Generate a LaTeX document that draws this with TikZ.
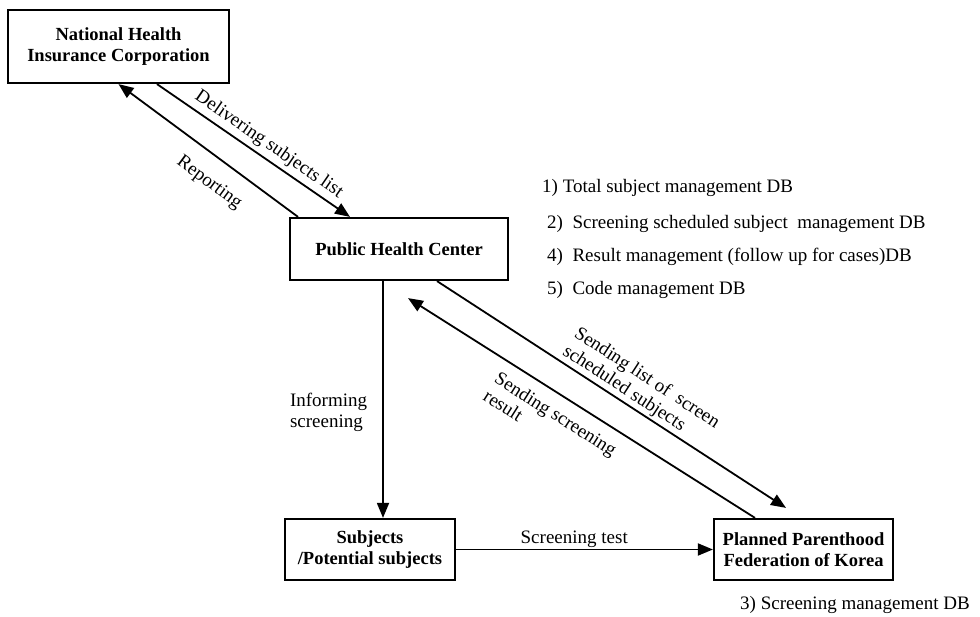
\documentclass[tikz,border=0pt]{standalone}
\usepackage{fontspec}
\setmainfont{Liberation Serif}
\usetikzlibrary{arrows.meta}

\begin{document}
\begin{tikzpicture}[x=1pt, y=-1pt,
    box/.style={draw, line width=2.2pt, align=center, inner sep=0pt, font=\bfseries\fontsize{18.5}{21}\selectfont},
    arr/.style={line width=1.8pt, -{Triangle[length=15pt,width=12pt]}},
    rarr/.style={line width=1.8pt, {Triangle[length=15pt,width=12pt]}-},
    lbl/.style={font=\fontsize{19}{21}\selectfont, inner sep=0pt},
    dblist/.style={anchor=west, font=\fontsize{19}{21}\selectfont, inner sep=0pt}]
    \useasboundingbox (0,0) rectangle (980,617);

    % Boxes
    \node[box, minimum width=221pt, minimum height=73pt] (nhic) at (118.5,46.5) {National Health\\Insurance Corporation};
    \node[box, minimum width=218pt, minimum height=62pt] (phc) at (399,249) {Public Health Center};
    \node[box, minimum width=170pt, minimum height=61pt] (subj) at (370,549.5) {Subjects\\/Potential subjects};
    \node[box, minimum width=179pt, minimum height=61pt] (ppfk) at (803.5,549.5) {Planned Parenthood\\Federation of Korea};

    % Corporation <-> health center
    \draw[arr] ([xshift=38.5pt]nhic.south) -- node[lbl, sloped, above=4pt, pos=0.54] {Delivering subjects list} ([xshift=-49pt]phc.north);
    \draw[rarr] (nhic.south) -- node[lbl, sloped, below=16.5pt, pos=0.59] {Reporting} ([xshift=-101pt]phc.north);

    % Health center -> subjects -> federation
    \draw[arr] ([xshift=-16pt]phc.south) -- node[lbl, left=15pt, align=left, pos=0.556] {Informing\\screening} ([xshift=-16pt]phc.south |- subj.north);
    \draw[arr] (subj.east) -- node[lbl, above=1pt, pos=0.46] {Screening test} (ppfk.west);

    % Health center <-> federation
    \draw[arr] ([xshift=38pt]phc.south) -- node[lbl, sloped, above=2pt, align=left, pos=0.55] {Sending list of\ \ screen\\scheduled subjects} ([xshift=-17.5pt, yshift=10pt]ppfk.north);
    \draw[rarr] ([xshift=9pt, yshift=-17pt]phc.south) -- node[lbl, sloped, below=11pt, align=left, pos=0.455] {Sending screening\\result} ([xshift=-48.5pt]ppfk.north);

    % Databases
    \node[dblist] (db1) at (542,188) {1) Total subject management DB};
    \node[dblist] (db2) at (547,224) {2)\ \ Screening scheduled subject\ \ management DB};
    \node[dblist] (db4) at (547,257) {4)\ \ Result management (follow up for cases)DB};
    \node[dblist] (db5) at (547,290) {5)\ \ Code management DB};
    \node[dblist] (db3) at (740,605) {3) Screening management DB};
\end{tikzpicture}
\end{document}
